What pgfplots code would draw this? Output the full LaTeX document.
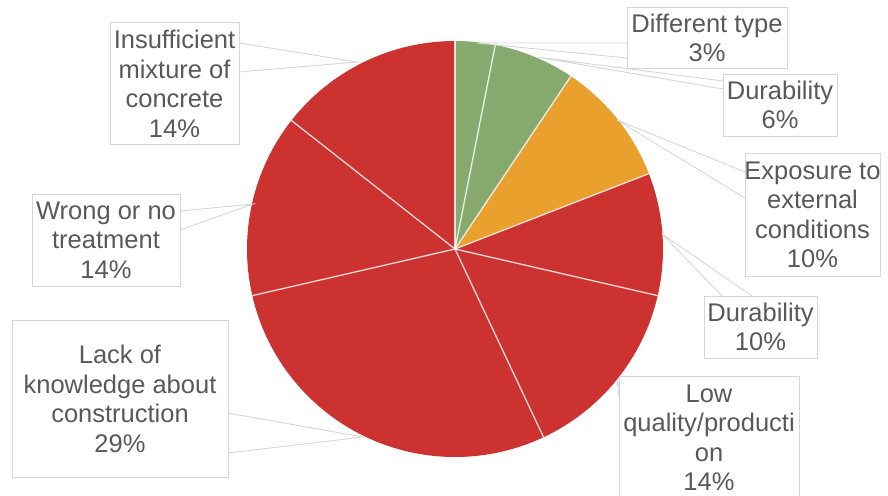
\documentclass[border=0pt]{standalone}
\usepackage{pgfplots}
\pgfplotsset{compat=1.18}
\usepackage{fontspec}
\setmainfont{Liberation Sans}
\definecolor{pgreen}{HTML}{86A96F}
\definecolor{porange}{HTML}{E9A02C}
\definecolor{pred}{HTML}{CC3330}
\definecolor{ptext}{HTML}{595959}
\definecolor{pbox}{HTML}{D6D6D6}
% shares (percent): 3.1, 6.3, 9.7, 9.5, 14.4, 28.4, 14.2, 14.4
\newcommand\slice[3]{\fill[#3] (axis cs:455,249) -- ++({90-3.6*(#1)}:208pt) arc[start angle={90-3.6*(#1)}, end angle={90-3.6*(#2)}, radius=208pt] -- cycle;}
\newcommand\sep[1]{\draw[white,opacity=0.8,line width=1.3pt] (axis cs:455,249) -- ++({90-3.6*(#1)}:208pt);}
\begin{document}
\begin{tikzpicture}
\useasboundingbox (0,0) rectangle (888pt,495pt);
\begin{axis}[x=1pt,y=1pt,xmin=0,xmax=888,ymin=0,ymax=495,y dir=reverse,
  hide axis,scale only axis,clip=false,anchor=south west,at={(0,0)}]
% slices: start and end as cumulative percentages
\slice{0}{3.1}{pgreen}
\slice{3.1}{9.4}{pgreen}
\slice{9.4}{19.1}{porange}
\slice{19.1}{28.6}{pred}
\slice{28.6}{43.0}{pred}
\slice{43.0}{71.4}{pred}
\slice{71.4}{85.6}{pred}
\slice{85.6}{100}{pred}
\sep{0}\sep{3.1}\sep{9.4}\sep{19.1}\sep{28.6}\sep{43.0}\sep{71.4}\sep{85.6}
% leader lines
\draw[pbox,line width=0.9pt] (axis cs:239,43) -- (axis cs:357,62) -- (axis cs:239,72);
\draw[pbox,line width=0.9pt] (axis cs:180,211) -- (axis cs:253,204) -- (axis cs:180,230);
\draw[pbox,line width=0.9pt] (axis cs:228,413) -- (axis cs:363,437) -- (axis cs:228,453);
\draw[pbox,line width=0.9pt] (axis cs:627,43) -- (axis cs:477,43) -- (axis cs:627,58);
\draw[pbox,line width=0.9pt] (axis cs:723,81) -- (axis cs:537,57) -- (axis cs:723,89);
\draw[pbox,line width=0.9pt] (axis cs:745,172) -- (axis cs:617,120) -- (axis cs:745,198);
\draw[pbox,line width=0.9pt] (axis cs:722,296) -- (axis cs:662,234) -- (axis cs:752,296);
\draw[pbox,line width=0.9pt] (axis cs:619,386) -- (axis cs:617,380) -- (axis cs:619,396);
% boxes
\draw[pbox,line width=0.9pt,fill=white] (axis cs:110,22) rectangle (axis cs:239,144);
\draw[pbox,line width=0.9pt,fill=white] (axis cs:32,194) rectangle (axis cs:180,286);
\draw[pbox,line width=0.9pt,fill=white] (axis cs:12,320) rectangle (axis cs:228,477);
\draw[pbox,line width=0.9pt,fill=white] (axis cs:627,7) rectangle (axis cs:787,68);
\draw[pbox,line width=0.9pt,fill=white] (axis cs:723,74) rectangle (axis cs:837,136);
\draw[pbox,line width=0.9pt,fill=white] (axis cs:745,153) rectangle (axis cs:880,276);
\draw[pbox,line width=0.9pt,fill=white] (axis cs:704,296) rectangle (axis cs:817,358);
\draw[pbox,line width=0.9pt] (axis cs:619,496) -- (axis cs:619,376) -- (axis cs:799,376) -- (axis cs:799,496);
% labels
\begin{scope}[every node/.style={text=ptext,align=center,inner sep=0pt,font=\fontsize{25.5}{29.5}\selectfont}]
\node at (axis cs:174.5,84) {Insufficient\\mixture of\\concrete\\14\%};
\node at (axis cs:106,240) {Wrong or no\\treatment\\14\%};
\node at (axis cs:120,399) {Lack of\\knowledge about\\construction\\29\%};
\node at (axis cs:707,38) {Different type\\3\%};
\node at (axis cs:780,105) {Durability\\6\%};
\node at (axis cs:812.5,215) {Exposure to\\external\\conditions\\10\%};
\node at (axis cs:760.5,327) {Durability\\10\%};
\node at (axis cs:709,438) {Low\\quality/producti\\on\\14\%};
\end{scope}
\end{axis}
\end{tikzpicture}
\end{document}
